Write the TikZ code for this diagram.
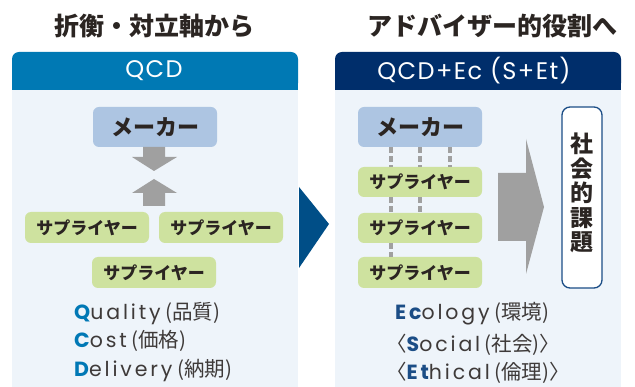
\documentclass[tikz,border=0pt]{standalone}
\usepackage{fontspec}
\setmainfont{Noto Sans CJK JP}
\newfontfamily\latf[LetterSpace=14]{Poppins}
\newfontfamily\hdrf[LetterSpace=6]{Poppins}
\definecolor{bodybg}{HTML}{EEF4FA}
\definecolor{hdrleft}{HTML}{0079B4}
\definecolor{hdrright}{HTML}{002E6B}
\definecolor{makerc}{HTML}{ADC5E2}
\definecolor{supc}{HTML}{CEE29F}
\definecolor{grayarr}{HTML}{A0A0A0}
\definecolor{chev}{HTML}{004E87}
\definecolor{txt}{HTML}{2B2522}
\definecolor{listc}{HTML}{3E3A39}
\definecolor{qblue}{HTML}{0078B5}
\definecolor{eblue}{HTML}{1B4D86}
\tikzset{
  maker/.style={fill=makerc, rounded corners=6pt, minimum width=124pt, minimum height=40pt, inner sep=0pt, text=txt, font=\bfseries\fontsize{22}{22}\selectfont},
  supplier/.style={fill=supc, rounded corners=6pt, minimum width=124pt, minimum height=31pt, inner sep=0pt, text=txt, font=\bfseries\fontsize{17}{17}\selectfont},
  titletext/.style={text=txt, font=\bfseries\fontsize{25}{25}\selectfont, inner sep=0pt},
  hdrtext/.style={text=white, font=\hdrf\fontsize{24}{24}\selectfont, inner sep=0pt},
  dashline/.style={draw=grayarr, line width=3.2pt, dash pattern=on 6pt off 3pt},
  listtext/.style={anchor=base west, inner sep=0pt, text=listc, font=\fontsize{20.5}{20.5}\selectfont},
}
\begin{document}
\begin{tikzpicture}[x=1pt,y=-1pt]
\useasboundingbox (0,0) rectangle (635,387);
\fill[white] (0,0) rectangle (635,387);
% titles
\node[titletext] (t1) at (154.5,26.5) {折衡・対立軸から};
\node[titletext] (t2) at (492,26.5) {アドバイザー的役割へ};
% panels
\fill[bodybg] (12,90) rectangle (298,387);
\fill[hdrleft, rounded corners=7pt] (12,90) |- (298,52) -- (298,90) -- cycle;
\fill[hdrleft] (12,80) rectangle (298,90);
\fill[bodybg] (335,90) rectangle (621,387);
\fill[hdrright, rounded corners=7pt] (335,90) |- (621,52) -- (621,90) -- cycle;
\fill[hdrright] (335,80) rectangle (621,90);
\node[hdrtext] (h1) at (154,71) {QCD};
\node[hdrtext] (h2) at (474,71) {QCD+Ec (S+Et)};
% chevron
\fill[chev] (299,187) -- (329,224) -- (299,268) -- cycle;
% left diagram
\node[maker] (lm) at (155,127) {メーカー};
\node[supplier] (ls1) at (87,227.5) {サプライヤー};
\node[supplier] (ls2) at (221,227.5) {サプライヤー};
\node[supplier] (ls3) at (154,272.5) {サプライヤー};
\fill[grayarr] (143,147) -- (165,147) -- (165,157) -- (177,157) -- (154,171) -- (132,157) -- (143,157) -- cycle;
\fill[grayarr] (143,206) -- (165,206) -- (165,193) -- (177,193) -- (154,179) -- (132,193) -- (143,193) -- cycle;
% right diagram
\node[maker] (rm) at (420,127) {メーカー};
\node[supplier, minimum height=30pt] (rs1) at (420,182) {サプライヤー};
\node[supplier, minimum height=30pt] (rs2) at (420,228) {サプライヤー};
\node[supplier, minimum height=31pt] (rs3) at (420,272.5) {サプライヤー};
\draw[dashline] ([xshift=-29pt]rm.south) -- ([xshift=-29pt]rs1.north);
\draw[dashline] (rm.south) -- (rs1.north);
\draw[dashline] ([xshift=30pt]rm.south) -- ([xshift=30pt]rs1.north);
\draw[dashline] ([xshift=-29pt]rs1.south) -- ([xshift=-29pt]rs2.north);
\draw[dashline] (rs1.south) -- (rs2.north);
\draw[dashline] ([xshift=-29pt]rs2.south) -- ([xshift=-29pt]rs3.north);
\fill[grayarr] (498,173) -- (526,173) -- (526,139) -- (544,207) -- (526,274) -- (526,241) -- (498,241) -- cycle;
\node[draw=eblue, line width=1.3pt, fill=white, rounded corners=8pt, minimum width=40pt, minimum height=181pt, inner sep=0pt] (soc) at (582,197.5) {};
\node[text=txt, align=center, font=\bfseries\fontsize{23}{24.5}\selectfont, inner sep=0pt] (soct) at (582,193) {社\\会\\的\\課\\題};
% lists
\node[listtext] (q1) at (74,320) {{\latf{\bfseries\color{qblue}Q}uality} (品質)};
\node[listtext] (q2) at (74,348) {{\latf{\bfseries\color{qblue}C}ost} (価格)};
\node[listtext] (q3) at (74,377) {{\latf{\bfseries\color{qblue}D}elivery} (納期)};
\node[listtext] (e1) at (395,320) {{\latf{\bfseries\color{eblue}Ec}ology} (環境)};
\node[listtext] (e2) at (386,352) {〈{\latf{\bfseries\color{eblue}S}ocial} (社会)〉};
\node[listtext] (e3) at (386,380) {〈{\latf{\bfseries\color{eblue}Et}hical} (倫理)〉};
\end{tikzpicture}
\end{document}
